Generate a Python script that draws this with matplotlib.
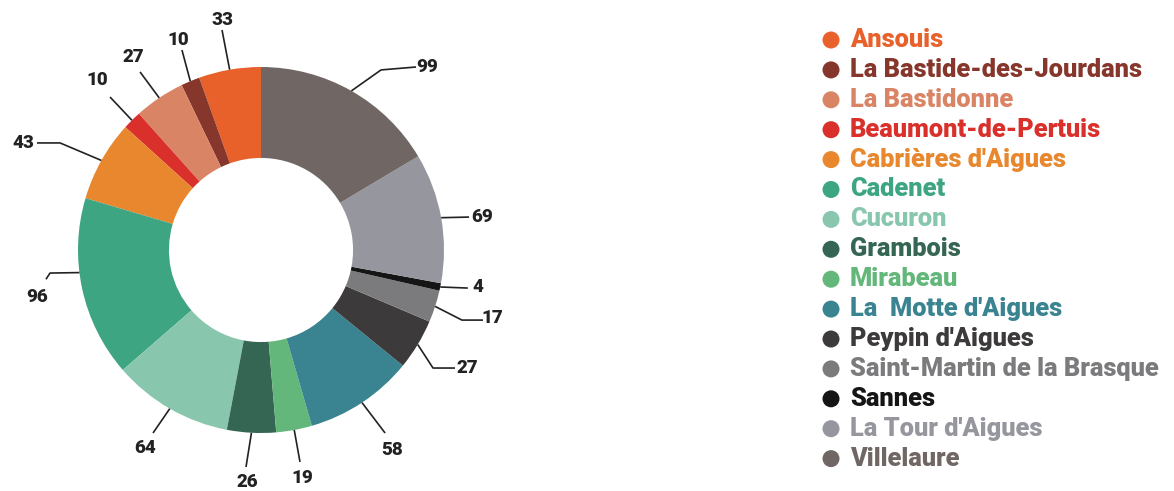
import matplotlib.pyplot as plt
import numpy as np

communes = ['Ansouis', 'La Bastide-des-Jourdans', 'La Bastidonne', 'Beaumont-de-Pertuis',
            "Cabrières d'Aigues", 'Cadenet', 'Cucuron', 'Grambois', 'Mirabeau',
            "La  Motte d'Aigues", "Peypin d'Aigues", 'Saint-Martin de la Brasque', 'Sannes',
            "La Tour d'Aigues", 'Villelaure']
valeurs = [33, 10, 27, 10, 43, 96, 64, 26, 19, 58, 27, 17, 4, 69, 99]
couleurs = ['#e8602a', '#86362a', '#d98565', '#d9302c', '#e8872d', '#3ea583', '#88c7ae',
            '#356553', '#63b77a', '#3a8390', '#3c3a3a', '#7b7b7d', '#151515', '#95969e', '#706764']

# position des etiquettes (rayon exterieur = 1) et coudes des traits de rappel
pos_txt = [(-0.213, 1.257), (-0.45, 1.148), (-0.70, 1.055), (-0.896, 0.929), (-1.30, 0.585),
           (-1.224, -0.257), (-0.633, -1.082), (-0.077, -1.27), (0.224, -1.246), (0.716, -1.093),
           (1.126, -0.645), (1.262, -0.372), (1.186, -0.202), (1.208, 0.18), (0.907, 1.0)]
coudes = [[(-0.213, 1.202)], [(-0.432, 1.093)], [(-0.661, 0.973)], [(-0.825, 0.836)],
          [(-1.098, 0.585), (-1.224, 0.585)], [(-1.153, -0.126), (-1.175, -0.16)],
          [(-0.59, -1.0)], [(-0.082, -1.186)], [(0.213, -1.158)], [(0.678, -1.0)],
          [(0.94, -0.645), (1.06, -0.645)], [(1.098, -0.383), (1.213, -0.383)],
          [(1.13, -0.208)], [(1.137, 0.18)], [(0.656, 0.984), (0.847, 1.0)]]
# point de depart du trait dans la part (0.5 = milieu)
depart = [0.5] * 15
depart[5] = 0.41

W, H = 1174, 491
fig = plt.figure(figsize=(W / 100, H / 100), dpi=100)

# axe du donut : 1 unite = 183 px, centre en (261, 250)
R, cx, cy, aw = 183, 261, 250, 560
ax = fig.add_axes([0, 0, aw / W, 1])
wedges, _ = ax.pie(valeurs, colors=couleurs, startangle=90, counterclock=True, radius=1,
                   wedgeprops=dict(width=0.497, linewidth=0))
ax.set_xlim(-cx / R, (aw - cx) / R)
ax.set_ylim((cy - H) / R, cy / R)
ax.set_aspect('auto')
ax.axis('off')

for w, v, (tx, ty), pts, f in zip(wedges, valeurs, pos_txt, coudes, depart):
    a = np.deg2rad(w.theta1 + f * (w.theta2 - w.theta1))
    xs = [np.cos(a)] + [p[0] for p in pts]
    ys = [np.sin(a)] + [p[1] for p in pts]
    ax.plot(xs, ys, color='#222222', lw=1.2, solid_capstyle='butt')
    ax.text(tx, ty, str(v), ha='center', va='center', fontsize=13.5,
            family='Roboto', fontweight='black', color='#222222')

# legende
leg = fig.add_axes([0, 0, 1, 1])
leg.set_xlim(0, W)
leg.set_ylim(H, 0)
leg.axis('off')
y0, pas = 40, 29.9
for i, (nom, c) in enumerate(zip(communes, couleurs)):
    y = y0 + i * pas
    leg.scatter([831], [y], s=150, color=c, edgecolors='none')
    leg.text(850, y, nom, color=c, fontsize=18.3, family='Roboto', fontweight='black',
             va='center', ha='left')

fig.savefig('out.png', dpi=100, facecolor='white')
